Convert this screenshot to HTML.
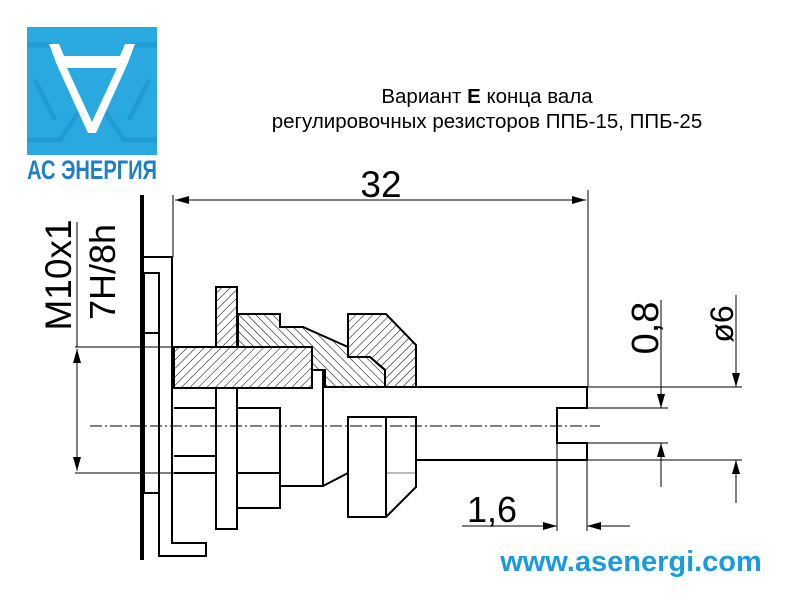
<!DOCTYPE html>
<html><head><meta charset="utf-8"><style>
html,body{margin:0;padding:0;background:#fff;width:800px;height:600px;overflow:hidden}
</style></head><body>
<svg width="800" height="600" viewBox="0 0 800 600" xmlns="http://www.w3.org/2000/svg" font-family="Liberation Sans, DejaVu Sans, sans-serif">
<defs>
<pattern id="h1" width="6" height="6" patternUnits="userSpaceOnUse" patternTransform="rotate(45)"><line x1="0" y1="0" x2="0" y2="6" stroke="#000" stroke-width="1"/></pattern>
<pattern id="h2" width="6" height="6" patternUnits="userSpaceOnUse" patternTransform="rotate(-45)"><line x1="0" y1="0" x2="0" y2="6" stroke="#000" stroke-width="1"/></pattern>
<marker id="a" markerWidth="14" markerHeight="8" refX="14" refY="4" orient="auto" markerUnits="userSpaceOnUse"><path d="M0,0 L14,4 L0,8z" fill="#000"/></marker>
</defs>
<rect width="800" height="600" fill="#fff"/>
<!-- logo -->
<rect x="27" y="27" width="130" height="128" fill="#2aa9e0"/>
<g stroke="#1e96cf" stroke-width="5" fill="none" opacity="0.7">
<path d="M27,45 L50,45 L60,60 M157,45 L134,45 L124,60 M27,140 L60,140 L80,110 M157,140 L124,140 L104,110 M35,80 L55,120 M149,80 L129,120"/>
</g>
<path d="M49,44 L59,44 L64,56 L120,56 L125,44 L135,44 L127,65 L96,133 L88,133 L57,65 Z M67,68 L92,122 L117,68 Z" fill="#fff" fill-rule="evenodd"/>
<text x="92" y="179" text-anchor="middle" font-size="27" font-weight="bold" fill="#1f7fc4" textLength="130" lengthAdjust="spacingAndGlyphs">АС ЭНЕРГИЯ</text>
<!-- title -->
<text x="487" y="103" text-anchor="middle" font-size="20.5">Вариант <tspan font-weight="bold">Е</tspan> конца вала</text>
<text x="487" y="128" text-anchor="middle" font-size="20.5">регулировочных резисторов ППБ-15, ППБ-25</text>
<text x="381" y="197" text-anchor="middle" font-size="37">32</text>
<text x="492" y="522" text-anchor="middle" font-size="36">1,6</text>
<text transform="translate(658,328) rotate(-90)" text-anchor="middle" font-size="38">0,8</text>
<text transform="translate(733,324) rotate(-90)" text-anchor="middle" font-size="32">ø6</text>
<text transform="translate(71,275) rotate(-90)" text-anchor="middle" font-size="37">M10x1</text>
<text transform="translate(115,272) rotate(-90)" text-anchor="middle" font-size="36">7H/8h</text>
<text x="631" y="571" text-anchor="middle" font-size="29" font-weight="bold" fill="#1a9be0">www.asenergi.com</text>
<!-- thin lines -->
<g stroke="#000" stroke-width="1" fill="none">
<line x1="173" y1="195" x2="173" y2="257"/>
<line x1="588" y1="190" x2="588" y2="387"/>
<line x1="175" y1="200" x2="586" y2="200" marker-end="url(#a)"/>
<line x1="586" y1="200" x2="175" y2="200" marker-end="url(#a)"/>
<line x1="75" y1="347" x2="174" y2="347"/>
<line x1="75" y1="473" x2="174" y2="473"/>
<line x1="77" y1="222" x2="77" y2="347"/>
<line x1="77" y1="410" x2="77" y2="349" marker-end="url(#a)"/>
<line x1="77" y1="410" x2="77" y2="471" marker-end="url(#a)"/>
<line x1="588" y1="387" x2="742" y2="387"/>
<line x1="588" y1="408" x2="668" y2="408"/>
<line x1="588" y1="443" x2="668" y2="443"/>
<line x1="588" y1="460" x2="742" y2="460"/>
<line x1="661" y1="300" x2="661" y2="408" marker-end="url(#a)"/>
<line x1="661" y1="487" x2="661" y2="443" marker-end="url(#a)"/>
<line x1="736" y1="295" x2="736" y2="387" marker-end="url(#a)"/>
<line x1="736" y1="503" x2="736" y2="460" marker-end="url(#a)"/>
<line x1="557" y1="443" x2="557" y2="531"/>
<line x1="587" y1="460" x2="587" y2="531"/>
<line x1="462" y1="526" x2="557" y2="526" marker-end="url(#a)"/>
<line x1="630" y1="526" x2="587" y2="526" marker-end="url(#a)"/>
<line x1="90" y1="426" x2="600" y2="426" stroke-dasharray="12,3,2,3"/>
<line x1="386" y1="473" x2="416" y2="473" stroke="#777"/>
</g>
<!-- thick part outlines -->
<g stroke="#000" stroke-width="2" fill="none">
<line x1="142" y1="195" x2="142" y2="560" stroke-width="4"/>
<polyline points="144,257 172,257 172,543 206,543 206,556 159,556 159,273 144,273"/>
<rect x="144" y="273" width="15" height="60"/>
<rect x="144" y="333" width="15" height="160"/>
<rect x="174" y="347" width="138" height="41" fill="url(#h1)"/>
<rect x="216" y="287" width="21" height="60" fill="url(#h1)"/>
<rect x="216" y="388" width="21" height="141"/>
<polygon points="238,314 280,314 280,327 303,327 348,347 348,357 370,357 385,370 385,387 325,387 325,370 312,370 312,347 238,347" fill="url(#h2)"/>
<polygon points="348,314 386,314 416,345 416,387 385,387 385,370 370,357 348,357" fill="url(#h1)"/>
<polyline points="416,387 587,387 587,408 557,408 557,443 587,443 587,460 416,460"/>
<polyline points="174,408 216,408"/>
<line x1="174" y1="456" x2="216" y2="456"/>
<line x1="174" y1="473" x2="216" y2="473"/>
<polyline points="237,408 280,408 280,508 237,508"/>
<line x1="237" y1="473" x2="280" y2="473"/>
<polyline points="312,388 312,370 323,370 323,486 280,486"/>
<polyline points="323,486 348,473"/>
<polygon points="348,417 416,417 416,487 386,517 348,517"/>
<line x1="386" y1="417" x2="386" y2="517"/>
</g>
</svg>
</body></html>
